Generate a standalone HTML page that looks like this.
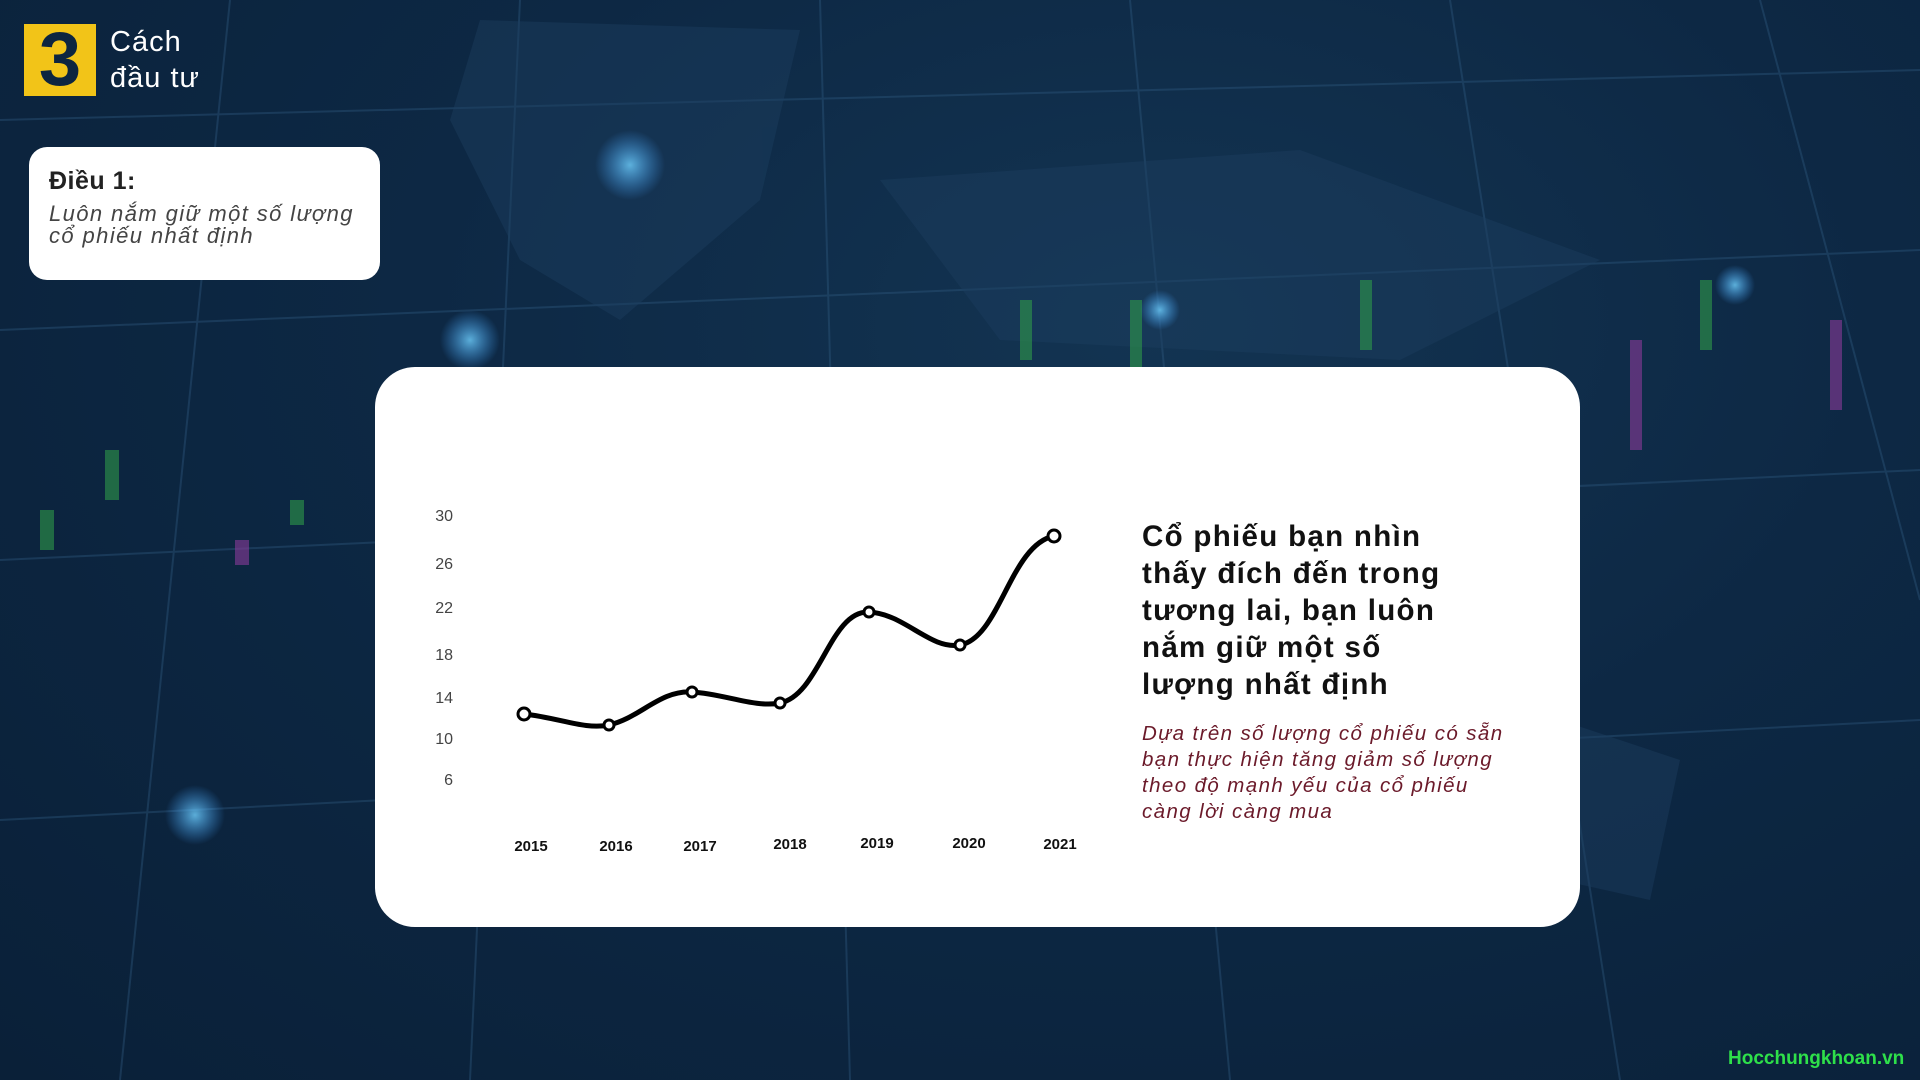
<!DOCTYPE html>
<html><head><meta charset="utf-8"><style>
body{margin:0;width:1920px;height:1080px;overflow:hidden;font-family:"Liberation Sans",sans-serif;}
#bg{position:absolute;left:0;top:0;width:1920px;height:1080px;background:radial-gradient(ellipse at 60% 30%,#133452 0%,#0d2844 45%,#0a2038 100%);}
.abs{position:absolute}
</style></head><body>
<div id="bg"></div>
<svg class="abs" style="left:0;top:0" width="1920" height="1080">
<defs><radialGradient id="gl"><stop offset="0" stop-color="#6fd0ff" stop-opacity="0.8"/><stop offset="1" stop-color="#3fa0ff" stop-opacity="0"/></radialGradient></defs>
<g stroke="#2f5a80" stroke-width="2" opacity="0.4" fill="none">
<path d="M0 120 L1920 70"/><path d="M0 330 L1920 250"/><path d="M0 560 L1920 470"/><path d="M0 820 L1920 720"/>
<path d="M230 0 L120 1080"/><path d="M520 0 L470 1080"/><path d="M820 0 L850 1080"/><path d="M1130 0 L1230 1080"/><path d="M1450 0 L1620 1080"/><path d="M1760 0 L1920 600"/>
</g>
<g fill="#1c3f60" opacity="0.45">
<path d="M480 20 L800 30 L760 200 L620 320 L520 260 L450 120Z"/>
<path d="M880 180 L1300 150 L1600 260 L1400 360 L1000 340Z"/>
<path d="M1560 720 L1680 760 L1650 900 L1560 880Z"/>
</g>
<g opacity="0.6">
<rect x="1020" y="300" width="12" height="60" fill="#2f9a4a"/><rect x="1130" y="300" width="12" height="70" fill="#2f9a4a"/><rect x="1360" y="280" width="12" height="70" fill="#2f9a4a"/>
<rect x="1630" y="340" width="12" height="110" fill="#8a3a9a"/><rect x="1830" y="320" width="12" height="90" fill="#8a3a9a"/><rect x="1700" y="280" width="12" height="70" fill="#2f9a4a"/>
<rect x="40" y="510" width="14" height="40" fill="#2f9a4a"/><rect x="105" y="450" width="14" height="50" fill="#2f9a4a"/><rect x="290" y="500" width="14" height="25" fill="#2f9a4a"/><rect x="235" y="540" width="14" height="25" fill="#8a3a9a"/>
</g>
<circle cx="630" cy="165" r="35" fill="url(#gl)"/><circle cx="195" cy="815" r="30" fill="url(#gl)"/><circle cx="470" cy="340" r="30" fill="url(#gl)"/><circle cx="1735" cy="285" r="20" fill="url(#gl)"/><circle cx="1160" cy="310" r="20" fill="url(#gl)"/>
</svg>
<div class="abs" style="left:24px;top:24px;width:72px;height:72px;background:#f2c418;color:#0d2540;font-weight:bold;font-size:76px;line-height:72px;text-align:center">3</div>
<div class="abs" style="left:110px;top:24px;color:#fff;font-size:29px;line-height:36px;letter-spacing:1px">Cách<br>đầu tư</div>
<div class="abs" style="left:29px;top:147px;width:351px;height:133px;background:#fff;border-radius:18px"></div>
<div class="abs" style="left:49px;top:167px;color:#222;font-size:25px;font-weight:bold;letter-spacing:0.5px">Điều 1:</div>
<div class="abs" style="left:49px;top:203px;color:#444;font-size:22px;font-style:italic;line-height:22px;letter-spacing:1.4px">Luôn nắm giữ một số lượng<br>cổ phiếu nhất định</div>
<div class="abs" style="left:375px;top:367px;width:1205px;height:560px;background:#fff;border-radius:40px"></div>
<svg class="abs" style="left:0;top:0" width="1920" height="1080">
<g font-size="16" fill="#444" text-anchor="end" font-family="Liberation Sans">
<text x="453" y="521">30</text><text x="453" y="569">26</text><text x="453" y="613">22</text><text x="453" y="660">18</text><text x="453" y="703">14</text><text x="453" y="744">10</text><text x="453" y="785">6</text>
</g>
<g font-size="15" font-weight="bold" fill="#111" text-anchor="middle" font-family="Liberation Sans">
<text x="531" y="851">2015</text><text x="616" y="851">2016</text><text x="700" y="851">2017</text><text x="790" y="849">2018</text><text x="877" y="848">2019</text><text x="969" y="848">2020</text><text x="1060" y="849">2021</text>
</g>
<path d="M524 714 C560 718,585 730,609 725 C640 718,660 690,692 692 C725 694,755 708,780 703 C820 695,830 610,869 612 C905 614,930 650,960 645 C1000 638,1010 545,1054 536" fill="none" stroke="#000" stroke-width="5"/>
<g fill="#fff" stroke="#000" stroke-width="3">
<circle cx="524" cy="714" r="6"/><circle cx="609" cy="725" r="5"/><circle cx="692" cy="692" r="5"/><circle cx="780" cy="703" r="5"/><circle cx="869" cy="612" r="5"/><circle cx="960" cy="645" r="5"/><circle cx="1054" cy="536" r="6"/>
</g>
</svg>
<div class="abs" style="left:1142px;top:518px;color:#111;font-size:29.5px;font-weight:bold;line-height:37px;letter-spacing:1.3px">Cổ phiếu bạn nhìn<br>thấy đích đến trong<br>tương lai, bạn luôn<br>nắm giữ một số<br>lượng nhất định</div>
<div class="abs" style="left:1142px;top:721px;color:#6b1a2a;font-size:20.5px;font-style:italic;line-height:26px;letter-spacing:1.4px">Dựa trên số lượng cổ phiếu có sẵn<br>bạn thực hiện tăng giảm số lượng<br>theo độ mạnh yếu của cổ phiếu<br>càng lời càng mua</div>
<div class="abs" style="left:1728px;top:1048px;color:#2ee04a;font-size:19px;font-weight:bold">Hocchungkhoan.vn</div>
</body></html>
